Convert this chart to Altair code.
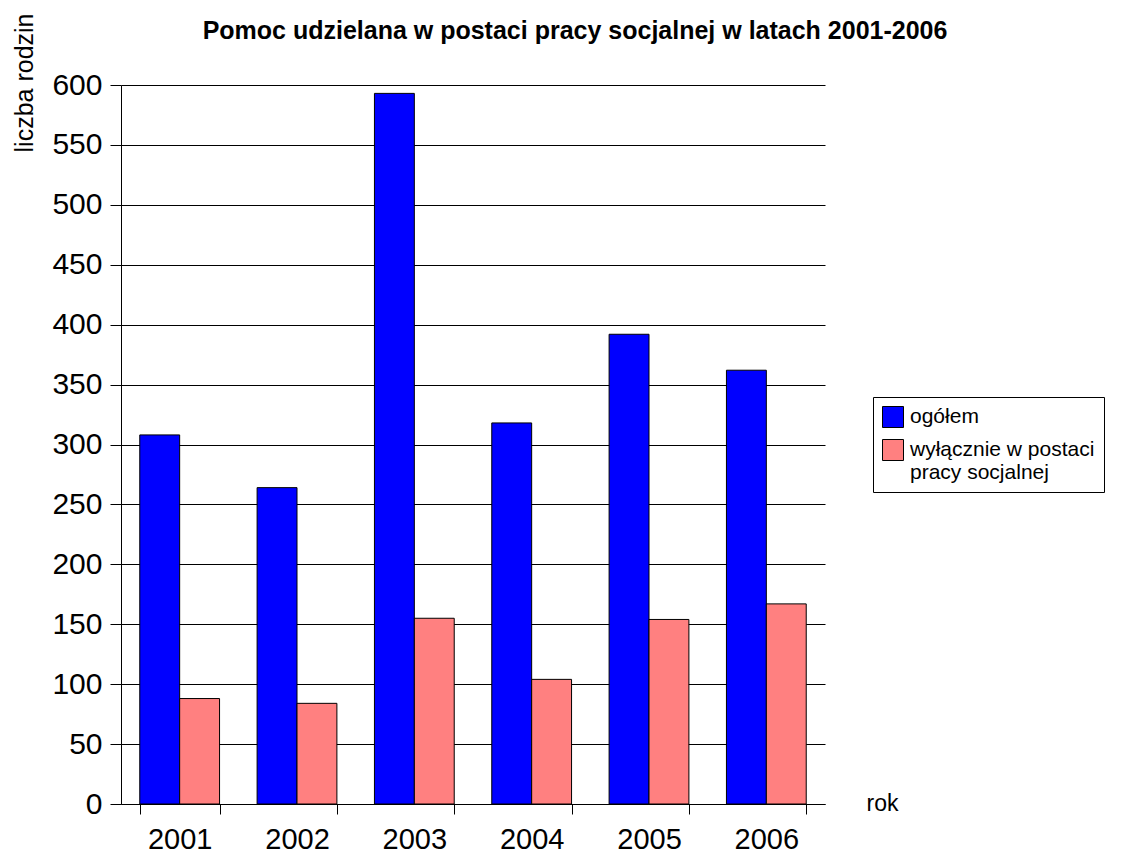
import altair as alt
import pandas as pd

years = ["2001", "2002", "2003", "2004", "2005", "2006"]
series = ["ogółem", "wyłącznie w postaci pracy socjalnej"]
total = [308, 264, 593, 318, 392, 362]
only_social = [88, 84, 155, 104, 154, 167]
y_ticks = [0, 50, 100, 150, 200, 250, 300, 350, 400, 450, 500, 550, 600]
colors = ["#0000FF", "#FF8080"]

rows = []
for i, y in enumerate(years):
    rows.append({"rok": y, "seria": series[0], "wartosc": total[i]})
    rows.append({"rok": y, "seria": series[1], "wartosc": only_social[i]})
df = pd.DataFrame(rows)

FONT = "Liberation Sans"

chart = alt.Chart(df).mark_bar(stroke="#000000", strokeWidth=1).encode(
    x=alt.X(
        "rok:N",
        sort=years,
        scale=alt.Scale(paddingInner=0.32, paddingOuter=0.16),
        axis=alt.Axis(
            title="rok",
            titleFont=FONT,
            titleFontSize=23,
            titleFontWeight="normal",
            titleColor="#000000",
            titleX=745,
            titleY=6,
            titleAlign="left",
            titleBaseline="alphabetic",
            titleAngle=0,
            labelFont=FONT,
            labelFontSize=29,
            labelColor="#000000",
            labelAngle=0,
            labelPadding=11,
            tickBand="extent",
            tickSize=10,
            tickColor="#000000",
            domainColor="#000000",
            grid=False,
        ),
    ),
    xOffset=alt.XOffset("seria:N", sort=series, scale=alt.Scale(paddingInner=0, paddingOuter=0)),
    y=alt.Y(
        "wartosc:Q",
        scale=alt.Scale(domain=[0, 600], nice=False),
        axis=alt.Axis(
            title="liczba rodzin",
            titleFont=FONT,
            titleFontSize=25,
            titleFontWeight="normal",
            titleColor="#000000",
            titleAngle=-90,
            titleAlign="right",
            titleBaseline="alphabetic",
            titleX=-89,
            titleY=-72,
            values=y_ticks,
            labelFont=FONT,
            labelFontSize=30,
            labelColor="#000000",
            labelPadding=8,
            tickSize=11,
            tickColor="#000000",
            domainColor="#000000",
            grid=True,
            gridColor="#000000",
            gridOpacity=1,
            gridWidth=1,
        ),
    ),
    color=alt.Color(
        "seria:N",
        sort=series,
        scale=alt.Scale(domain=series, range=colors),
        legend=alt.Legend(
            title=None,
            orient="none",
            legendX=752,
            legendY=312,
            symbolType="square",
            symbolSize=441,
            symbolStrokeColor="#000000",
            symbolStrokeWidth=1,
            symbolOpacity=1,
            labelFont=FONT,
            labelFontSize=21,
            labelColor="#000000",
            labelOffset=6,
            labelLimit=400,
            labelBaseline="middle",
            rowPadding=7,
            padding=9,
            strokeColor="#000000",
            fillColor="#FFFFFF",
            labelExpr="datum.label == 'wyłącznie w postaci pracy socjalnej' ? ['wyłącznie w postaci', 'pracy socjalnej'] : datum.label",
        ),
    ),
).properties(
    width=704,
    height=719,
    autosize=alt.AutoSizeParams(type="none"),
    padding={"left": 113, "top": 77, "right": 303, "bottom": 50},
    title=alt.TitleParams(
        "Pomoc udzielana w postaci pracy socjalnej w latach 2001-2006",
        font=FONT,
        fontSize=25,
        fontWeight="bold",
        color="#000000",
        anchor="middle",
        dx=102,
        offset=-51,
        baseline="alphabetic",
    ),
).configure_view(stroke=None)

chart.save("out.html", embed_options={"renderer": "svg", "actions": False})
